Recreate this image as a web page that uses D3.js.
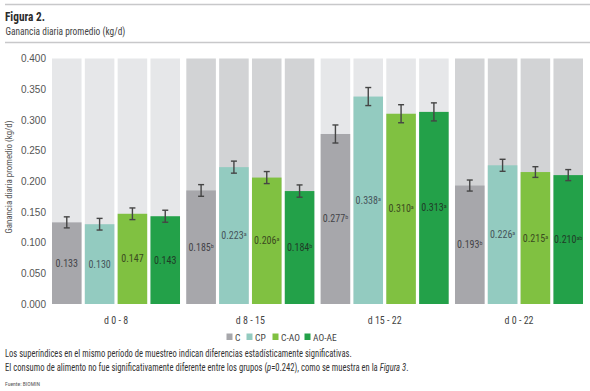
<!DOCTYPE html>
<html><head><meta charset="utf-8">
<script src="https://cdn.jsdelivr.net/npm/d3@7"></script>
<style>
body{margin:0;background:#fff;}
svg{display:block;font-family:"Liberation Sans Narrow","Roboto Condensed","Arial Narrow",sans-serif;}
</style></head><body>
<svg id="chart" width="590" height="391"></svg>
<script>
const groups = ["d 0 - 8", "d 8 - 15", "d 15 - 22", "d 0 - 22"];
const series = ["C", "CP", "C-AO", "AO-AE"];
const valC    = [0.133, 0.185, 0.277, 0.193];
const valCP   = [0.130, 0.223, 0.338, 0.226];
const valCAO  = [0.147, 0.206, 0.310, 0.215];
const valAOAE = [0.143, 0.184, 0.313, 0.210];
const errC    = [0.009, 0.0095, 0.0147, 0.009];
const errCP   = [0.0095, 0.0098, 0.0147, 0.0098];
const errCAO  = [0.0095, 0.0098, 0.0147, 0.0087];
const errAOAE = [0.0098, 0.010, 0.0147, 0.009];
const supC    = ["", "b", "b", "b"];
const supCP   = ["", "a", "a", "a"];
const supCAO  = ["", "a", "a", "a"];
const supAOAE = ["", "b", "a", "ab"];
const yTicks = [0, 0.05, 0.1, 0.15, 0.2, 0.25, 0.3, 0.35, 0.4];

const colors = {"C":"#a7a7ab","CP":"#93cbc0","C-AO":"#80c141","AO-AE":"#23a149"};
const textColors = {"C":"#444448","CP":"#46545a","C-AO":"#3b4a20","AO-AE":"#1f3b27"};
const bgColors = ["#e6e7e9","#d2d3d5","#e6e7e9","#d2d3d5"];

const vals = [valC, valCP, valCAO, valAOAE];
const errs = [errC, errCP, errCAO, errAOAE];
const sups = [supC, supCP, supCAO, supAOAE];

const data = [];
groups.forEach((g, gi) => series.forEach((s, si) => data.push({g, gi, s, v: vals[si][gi], e: errs[si][gi], sup: sups[si][gi]})));

const svg = d3.select("#chart");
const x0 = d3.scaleBand().domain(groups).range([52, 583]).paddingInner(0.047).paddingOuter(0);
const x1 = d3.scaleBand().domain(series).range([0, x0.bandwidth()]).paddingInner(0.1).paddingOuter(0);
const y = d3.scaleLinear().domain([0, 0.4]).range([304, 58.5]);

// fit text horizontally by scaling its group
function fitX(g, target) {
  const w = g.node().getBBox().width;
  const t = g.attr("data-t");
  g.attr("transform", t + " scale(" + (target / w) + ",1)");
}

// header
svg.append("line").attr("x1",5).attr("x2",590).attr("y1",4.5).attr("y2",4.5).attr("stroke","#c8c8ca").attr("stroke-width",1.6);
svg.append("line").attr("x1",5).attr("x2",590).attr("y1",42.5).attr("y2",42.5).attr("stroke","#c8c8ca").attr("stroke-width",1.6);
const h1 = svg.append("g").attr("data-t","translate(5,21)");
h1.append("text").attr("font-size",12).attr("font-weight","bold").attr("fill","#2b2b2b").text("Figura 2.");
fitX(h1, 40);
const h2 = svg.append("g").attr("data-t","translate(5.5,34.5)");
h2.append("text").attr("font-size",10).attr("fill","#444").text("Ganancia diaria promedio (kg/d)");
fitX(h2, 120);

// y axis
const yAxis = d3.axisLeft(y).tickValues(yTicks).tickFormat(d3.format(".3f")).tickSize(0).tickPadding(0);
const ya = svg.append("g").attr("transform","translate(46,0)").call(yAxis);
ya.select(".domain").remove();
ya.selectAll("text").attr("font-size",10).attr("fill","#555").attr("font-family","inherit");
svg.append("text").attr("transform","translate(12,177) rotate(-90)").attr("text-anchor","middle")
  .attr("font-size",9).attr("fill","#555").attr("textLength",113).attr("lengthAdjust","spacingAndGlyphs")
  .text("Ganancia diaria promedio (kg/d)");

const bx = d => x0(d.g) + x1(d.s);
const bw = x1.bandwidth();

// backgrounds
svg.append("g").selectAll("rect").data(data).join("rect")
  .attr("x", bx).attr("width", bw).attr("y", y(0.4)).attr("height", y(0) - y(0.4))
  .attr("fill", d => bgColors[d.gi]);
// bars
svg.append("g").selectAll("rect").data(data).join("rect")
  .attr("x", bx).attr("width", bw).attr("y", d => y(d.v)).attr("height", d => y(0) - y(d.v))
  .attr("fill", d => colors[d.s]);
// error bars
const eg = svg.append("g").attr("stroke","#454545").attr("stroke-width",1.4);
data.forEach(d => {
  const cx = bx(d) + bw/2;
  eg.append("line").attr("x1",cx).attr("x2",cx).attr("y1",y(d.v+d.e)).attr("y2",y(d.v-d.e));
  eg.append("line").attr("x1",cx-3).attr("x2",cx+3).attr("y1",y(d.v+d.e)).attr("y2",y(d.v+d.e));
  eg.append("line").attr("x1",cx-3).attr("x2",cx+3).attr("y1",y(d.v-d.e)).attr("y2",y(d.v-d.e));
});
// labels
const lg = svg.append("g");
data.forEach(d => {
  const cx = bx(d) + bw/2;
  const t = lg.append("text").attr("x", cx).attr("y", (y(d.v) + y(0))/2 + 3.5)
    .attr("text-anchor","middle").attr("font-size",10).attr("fill", textColors[d.s]);
  t.append("tspan").text(d3.format(".3f")(d.v));
  if (d.sup) t.append("tspan").attr("font-size",6).attr("dy",-3).text(d.sup);
});

// x labels
svg.append("g").selectAll("text").data(groups).join("text")
  .attr("x", g => x0(g) + x0.bandwidth()/2).attr("y", 324).attr("text-anchor","middle")
  .attr("font-size",10).attr("fill","#444").text(g => g);

// legend
const legX = [226.5, 246.5, 272.5, 304.5];
series.forEach((s, i) => {
  svg.append("rect").attr("x", legX[i]).attr("y", 333.5).attr("width",6).attr("height",6.5).attr("fill", colors[s]);
  svg.append("text").attr("x", legX[i] + 8.5).attr("y", 340.5).attr("font-size",9.5).attr("fill","#444").text(s);
});

// footnotes
const f1g = svg.append("g").attr("data-t","translate(5,357)");
f1g.append("text").attr("font-size",10).attr("fill","#333")
  .text("Los superíndices en el mismo período de muestreo indican diferencias estadísticamente significativas.");
fitX(f1g, 347);
const f2g = svg.append("g").attr("data-t","translate(5,371)");
const f2 = f2g.append("text").attr("font-size",10).attr("fill","#333");
f2.append("tspan").text("El consumo de alimento no fue significativamente diferente entre los grupos (");
f2.append("tspan").attr("font-style","italic").text("p");
f2.append("tspan").text("=0.242), como se muestra en la ");
f2.append("tspan").attr("font-style","italic").text("Figura 3");
f2.append("tspan").text(".");
fitX(f2g, 404);
const f3g = svg.append("g").attr("data-t","translate(5,386)");
f3g.append("text").attr("font-size",5.5).attr("fill","#555").text("Fuente: BIOMIN");
fitX(f3g, 35);
</script></body></html>
